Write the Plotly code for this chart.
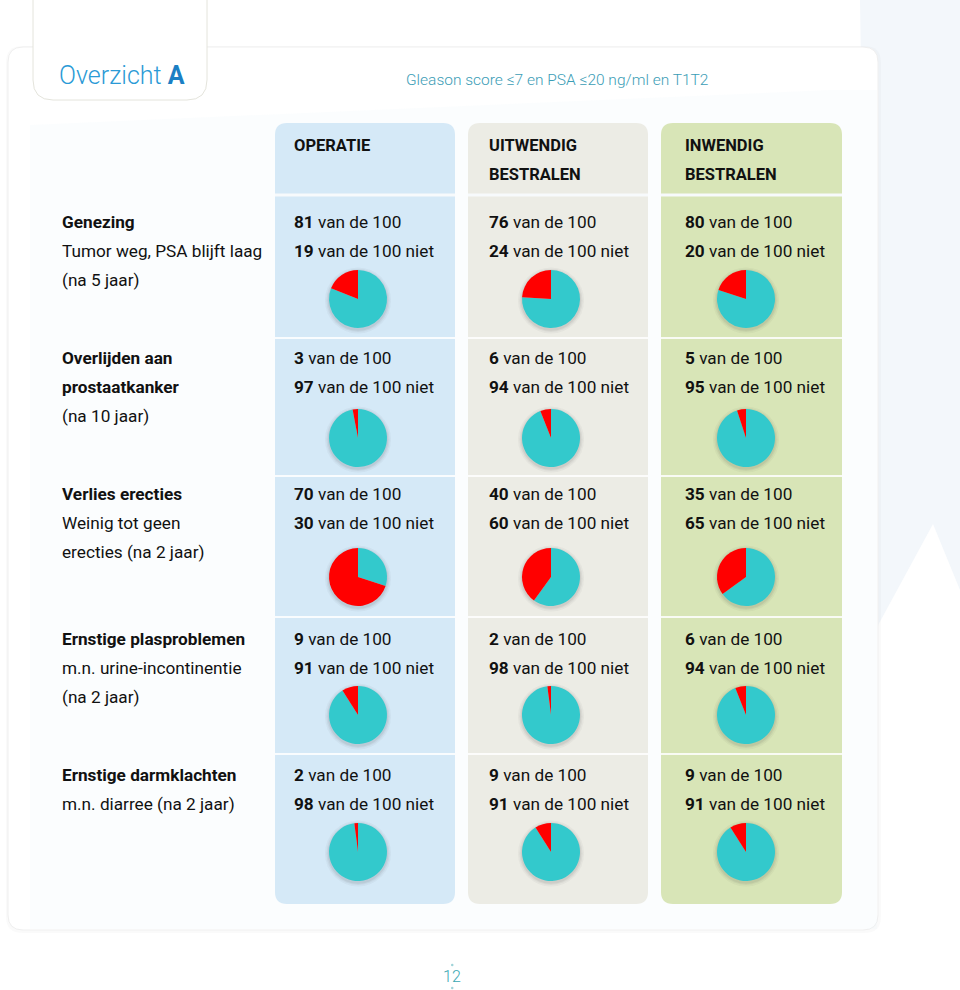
import plotly.graph_objects as go

# ---------------- data ----------------
columns = ["OPERATIE", "UITWENDIG\nBESTRALEN", "INWENDIG\nBESTRALEN"]
row_titles = [
    ["Genezing"],
    ["Overlijden aan", "prostaatkanker"],
    ["Verlies erecties"],
    ["Ernstige plasproblemen"],
    ["Ernstige darmklachten"],
]
row_subtitles = [
    ["Tumor weg, PSA blijft laag", "(na 5 jaar)"],
    ["(na 10 jaar)"],
    ["Weinig tot geen", "erecties (na 2 jaar)"],
    ["m.n. urine-incontinentie", "(na 2 jaar)"],
    ["m.n. diarree (na 2 jaar)"],
]
# "X van de 100"
counts_yes = [
    [81, 76, 80],
    [3, 6, 5],
    [70, 40, 35],
    [9, 2, 6],
    [2, 9, 9],
]
# "X van de 100 niet"
counts_no = [
    [19, 24, 20],
    [97, 94, 95],
    [30, 60, 65],
    [91, 98, 94],
    [98, 91, 91],
]
# which count is the unfavourable (red) outcome per row
red_is_yes = [False, True, True, True, True]

title_main = "Overzicht"
title_letter = "A"
subtitle = "Gleason score ≤7 en PSA ≤20 ng/ml en T1T2"
page_number = "12"

# ---------------- style ----------------
W, H = 960, 990
FONT = "Roboto, Liberation Sans, sans-serif"
RED = "#ff0000"
CYAN = "#33c9cc"
panel_colors = ["#d5e9f7", "#ecece5", "#d8e5b7"]
panel_x = [(275, 455), (468, 648), (661, 842)]
text_x = [292, 487, 683]
pie_cx = [358, 551, 746]
pie_cy = [299, 438, 577, 715, 852]
pie_r = 29
row_text_y = [222, 358, 494, 639, 775]
line_gap = 29
row_sep_y = [338, 476, 617, 754]
label_x = 60
BODY = 17.2


def rrect(x0, y0, x1, y1, r, top=True, bottom=True):
    rt = r if top else 0
    rb = r if bottom else 0
    p = f"M {x0+rt},{y0} L {x1-rt},{y0} "
    p += f"Q {x1},{y0} {x1},{y0+rt} " if top else ""
    p += f"L {x1},{y1-rb} "
    p += f"Q {x1},{y1} {x1-rb},{y1} " if bottom else ""
    p += f"L {x0+rb},{y1} "
    p += f"Q {x0},{y1} {x0},{y1-rb} " if bottom else ""
    p += f"L {x0},{y0+rt} "
    p += f"Q {x0},{y0} {x0+rt},{y0} Z" if top else "Z"
    return p


shapes = []
# faint background shape (outside card, upper right)
shapes.append(dict(type="path", layer="below",
                   path="M 830,0 L 960,0 L 960,590 L 933,524 L 870,640 L 860,0 Z",
                   fillcolor="#f3f7fb", line=dict(width=0)))
# card shadow + card
shapes.append(dict(type="path", layer="below", path=rrect(6, 46, 881, 933, 16),
                   fillcolor="rgba(0,0,0,0.02)", line=dict(width=0)))
shapes.append(dict(type="path", layer="below", path=rrect(8, 47, 878, 930, 15),
                   fillcolor="#ffffff", line=dict(color="#efefef", width=1)))
# very faint inner tint
shapes.append(dict(type="path", layer="below",
                   path="M 30,929 L 30,125 L 830,90 L 877,90 L 877,929 Z",
                   fillcolor="rgba(236,244,250,0.22)", line=dict(width=0)))
# tab
shapes.append(dict(type="path", layer="below", path=rrect(33, -30, 207, 100, 20),
                   fillcolor="#ffffff", line=dict(color="#e4e4dc", width=1)))

# column panels
for (x0, x1), col in zip(panel_x, panel_colors):
    shapes.append(dict(type="path", layer="below", path=rrect(x0, 123, x1, 904, 12),
                       fillcolor=col, line=dict(width=0)))
    shapes.append(dict(type="line", layer="below", x0=x0, x1=x1, y0=195, y1=195,
                       line=dict(color="#f7fafc", width=3)))
    for sy in row_sep_y:
        shapes.append(dict(type="line", layer="below", x0=x0, x1=x1, y0=sy, y1=sy,
                           line=dict(color="rgba(255,255,255,0.85)", width=2)))

# pie shadows
for cy in pie_cy:
    for cx in pie_cx:
        for k, a in ((4, 0.04), (2.5, 0.06), (1.2, 0.08)):
            shapes.append(dict(type="circle", layer="below",
                               x0=cx - pie_r - k, x1=cx + pie_r + k,
                               y0=cy - pie_r - k + 1.5, y1=cy + pie_r + k + 1.5,
                               fillcolor=f"rgba(60,60,60,{a})", line=dict(width=0)))

# page dots
for dy in (965, 988):
    shapes.append(dict(type="circle", layer="below", x0=451, x1=453.5, y0=dy - 1.2, y1=dy + 1.2,
                       fillcolor="#9fd3d8", line=dict(width=0)))

ann = []


def txt(x, y, s, size=BODY, color="#111111", xanchor="left", weight=None):
    f = dict(family=FONT, size=size, color=color)
    if weight:
        f["weight"] = weight
    ann.append(dict(x=x, y=y, xref="x", yref="y", text=s, showarrow=False,
                    xanchor=xanchor, yanchor="middle", font=f))


txt(57, 75, f"{title_main} <b><span style='color:#1b7fc4'>{title_letter}</span></b>",
    size=25, color="#2a9ad6", weight=300)
txt(557, 80, subtitle, size=15.5, color="#3b9db6", xanchor="center", weight=300)

for ci, name in enumerate(columns):
    for li, part in enumerate(name.split("\n")):
        txt(text_x[ci], 145 + li * 29, f"<b>{part}</b>", size=16.5)

for ri in range(len(row_titles)):
    y = row_text_y[ri]
    lines = [f"<b>{t}</b>" for t in row_titles[ri]] + row_subtitles[ri]
    for li, s in enumerate(lines):
        txt(label_x, y + li * line_gap, s)
    for ci in range(3):
        txt(text_x[ci], y, f"<b>{counts_yes[ri][ci]}</b> van de 100")
        txt(text_x[ci], y + line_gap, f"<b>{counts_no[ri][ci]}</b> van de 100 niet")

txt(452, 976, page_number, size=16, color="#3aa7b3", xanchor="center", weight=300)

fig = go.Figure()
for ri in range(len(row_titles)):
    for ci in range(3):
        if red_is_yes[ri]:
            red, cyan = counts_yes[ri][ci], counts_no[ri][ci]
        else:
            red, cyan = counts_no[ri][ci], counts_yes[ri][ci]
        cx, cy = pie_cx[ci], pie_cy[ri]
        # clockwise from 12 o'clock: cyan first, red last -> red sits left of 12 o'clock
        fig.add_trace(go.Pie(
            values=[cyan, red], labels=["cyaan", "rood"], sort=False,
            direction="clockwise", rotation=0,
            marker=dict(colors=[CYAN, RED], line=dict(width=0)),
            textinfo="none", hoverinfo="skip", showlegend=False,
            domain=dict(x=[(cx - pie_r) / W, (cx + pie_r) / W],
                        y=[1 - (cy + pie_r) / H, 1 - (cy - pie_r) / H]),
        ))

fig.update_layout(
    width=W, height=H, margin=dict(l=0, r=0, t=0, b=0),
    paper_bgcolor="#ffffff", plot_bgcolor="rgba(0,0,0,0)",
    xaxis=dict(range=[0, W], visible=False, fixedrange=True),
    yaxis=dict(range=[H, 0], visible=False, fixedrange=True),
    shapes=shapes, annotations=ann, showlegend=False,
)
fig.write_html("out.html", config=dict(displayModeBar=False),
               post_script="document.body.style.margin='0';document.body.style.overflow='hidden';")
